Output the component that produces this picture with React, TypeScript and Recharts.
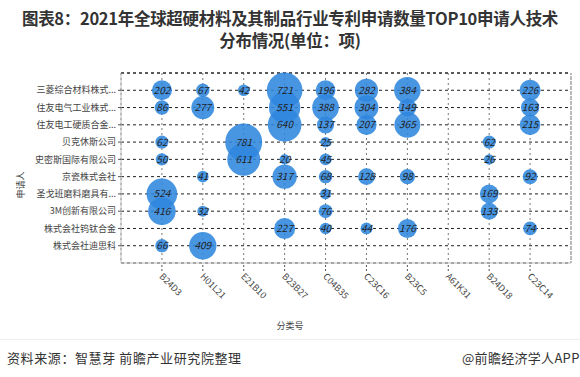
import { ScatterChart, Scatter, XAxis, YAxis, ZAxis, CartesianGrid, ReferenceLine, LabelList } from 'recharts'

// patent classes (x axis, left to right)
const classes = ['B24D3', 'H01L21', 'E21B10', 'B23B27', 'C04B35', 'C23C16', 'B23C5', 'A61K31', 'B24D18', 'C23C14']

// applicants, top to bottom
const applicants = [
  '三菱综合材料株式...',
  '住友电气工业株式...',
  '住友电工硬质合金...',
  '贝克休斯公司',
  '史密斯国际有限公司',
  '京瓷株式会社',
  '圣戈班磨料磨具有...',
  '3M创新有限公司',
  '株式会社钨钛合金',
  '株式会社迪思科',
]

// counts per applicant, one entry per class (null = none)
const mitsubishi = [202, 67, 42, 721, 196, 282, 384, null, null, 226]
const sumitomoElectric = [86, 277, null, 551, 388, 304, 149, null, null, 163]
const sumitomoHardmetal = [null, null, null, 640, 137, 207, 365, null, null, 215]
const bakerHughes = [62, null, 781, null, 25, null, null, null, 62, null]
const smith = [50, null, 611, 20, 45, null, null, null, 26, null]
const kyocera = [null, 41, null, 317, 68, 128, 98, null, null, 92]
const saintGobain = [524, null, null, null, 31, null, null, null, 169, null]
const threeM = [416, 32, null, null, 76, null, null, null, 133, null]
const tungaloy = [null, null, null, 227, 40, 44, 176, null, null, 74]
const disco = [66, 409, null, null, null, null, null, null, null, null]

const rows = [mitsubishi, sumitomoElectric, sumitomoHardmetal, bakerHughes, smith, kyocera, saintGobain, threeM, tungaloy, disco]

const points: { x: number; y: number; v: number }[] = []
rows.forEach((row, r) => {
  row.forEach((v, c) => {
    if (v != null) points.push({ x: c + 1, y: applicants.length - r, v })
  })
})

const idx = [1, 2, 3, 4, 5, 6, 7, 8, 9, 10]

const XTick = (props: any) => {
  const { x, y, payload } = props
  return (
    <g transform={`translate(${x - 1},${y + 2})`}>
      <text transform="rotate(45)" textAnchor="start" fontSize={9} fill="#444" dy={3}>
        {classes[payload.value - 1]}
      </text>
    </g>
  )
}

const titleStyle = {
  position: 'absolute' as const,
  left: 0,
  width: 580,
  textAlign: 'center' as const,
  fontSize: 16.5,
  fontWeight: 'bold' as const,
  color: '#333',
  lineHeight: '20px',
  letterSpacing: -0.3,
  whiteSpace: 'nowrap' as const,
}

export default function App() {
  return (
    <div style={{ position: 'absolute', left: 0, top: 0, width: 580, height: 377, background: '#fff', fontFamily: '"Noto Sans CJK SC", "Noto Sans", sans-serif', overflow: 'hidden' }}>
      <div style={{ ...titleStyle, top: 8 }}>图表8：2021年全球超硬材料及其制品行业专利申请数量TOP10申请人技术</div>
      <div style={{ ...titleStyle, top: 30 }}>分布情况(单位：项)</div>
      <ScatterChart width={580} height={377} margin={{ top: 73, right: 9, bottom: 54, left: 0 }}>
        <CartesianGrid horizontal vertical={false} stroke="#222" strokeDasharray="3 3" />
        <CartesianGrid horizontal={false} vertical stroke="#777" strokeDasharray="2 3" />
        <ReferenceLine y={11} stroke="#222" strokeDasharray="3 3" />
        <ReferenceLine x={11} stroke="#777" strokeDasharray="2 3" />
        <XAxis
          type="number"
          dataKey="x"
          domain={[0, 11]}
          ticks={idx}
          interval={0}
          height={60}
          tick={<XTick />}
          tickLine={{ stroke: '#555', strokeDasharray: '2 2' }}
          tickSize={8}
          axisLine={{ stroke: '#bbb' }}
        />
        <YAxis
          type="number"
          dataKey="y"
          domain={[0, 11]}
          ticks={idx}
          interval={0}
          width={121}
          tickFormatter={(v: number) => applicants[applicants.length - v]}
          tick={{ fontSize: 9, fill: '#444' }}
          tickLine={{ stroke: '#555' }}
          tickSize={3}
          axisLine={{ stroke: '#bbb' }}
        />
        <ZAxis type="number" dataKey="v" domain={[0, 781]} range={[52, 1075]} />
        <Scatter data={points} fill="#2f86de" fillOpacity={0.88} isAnimationActive={false}>
          <LabelList dataKey="v" position="center" fontSize={10} fontStyle="italic" fill="#222" />
        </Scatter>
      </ScatterChart>
      <div style={{ position: 'absolute', left: 290, top: 319, transform: 'translateX(-50%)', fontSize: 9, color: '#444' }}>分类号</div>
      <div style={{ position: 'absolute', left: 20, top: 185, transform: 'translate(-50%,-50%) rotate(-90deg)', fontSize: 9, color: '#444', whiteSpace: 'nowrap' }}>申请人</div>
      <div style={{ position: 'absolute', left: 0, right: 0, top: 339, borderTop: '1px solid #eee' }} />
      <div style={{ position: 'absolute', left: 7, top: 348, fontSize: 13, color: '#333', letterSpacing: 0.6 }}>资料来源：智慧芽 前瞻产业研究院整理</div>
      <div style={{ position: 'absolute', left: 462, top: 348, fontSize: 13, color: '#333', whiteSpace: 'nowrap', letterSpacing: 0.3 }}>@前瞻经济学人APP</div>
    </div>
  )
}
